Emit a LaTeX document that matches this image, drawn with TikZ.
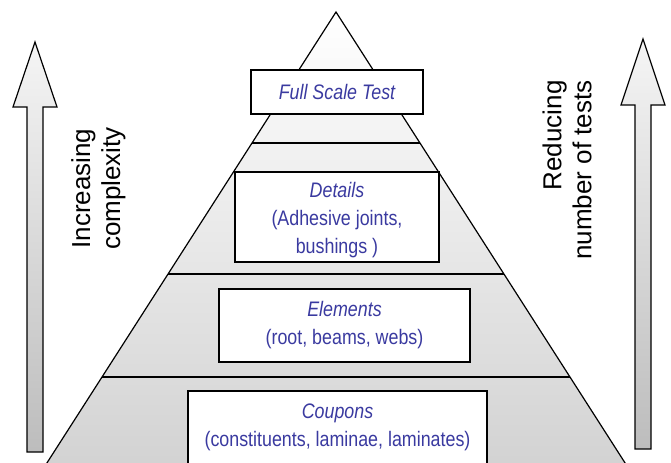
\documentclass[tikz,border=0pt]{standalone}
\usepackage{fontspec}
\setsansfont{Liberation Sans}
\newfontfamily\narrowsans[FakeStretch=0.85]{Liberation Sans}
\usetikzlibrary{calc}
\definecolor{levelblue}{RGB}{58,58,160}

\begin{document}
\begin{tikzpicture}[
    x=0.5pt, y=-0.5pt,
    line width=0.6pt,
    pyramid/.style={draw=black, shading=axis, top color=white, bottom color=black!18},
    level/.style={draw=black, fill=white},
    levellabel/.style={text=levelblue, align=center, font=\narrowsans\fontsize{10.5}{14}\selectfont},
    bigarrow/.style={draw=black, shading=axis, top color=black!4, bottom color=black!26},
    sidelabel/.style={rotate=90, font=\sffamily\fontsize{13}{15}\selectfont}
  ]
  \useasboundingbox (0,0) rectangle (671,462);

  \coordinate (apex) at (336,12);
  \coordinate (bl) at (36,480);
  \coordinate (br) at (636,480);
  \draw[pyramid] (apex) -- (bl) -- (br) -- cycle;
  \foreach \t in {0.28,0.56,0.78}
    \draw ($(apex)!\t!(bl)$) -- ($(apex)!\t!(br)$);

  \draw[level] (251,70) rectangle (423,114)
    node[midway, levellabel] (fullscale) {\itshape Full Scale Test};
  \draw[level] (235,172) rectangle (439,262)
    node[midway, levellabel, yshift=-1.5pt] (details) {{\itshape Details}\\(Adhesive joints,\\bushings )};
  \draw[level] (219,289) rectangle (470,362)
    node[midway, levellabel] (elements) {{\itshape Elements}\\(root, beams, webs)};
  \draw[level] (188,391) rectangle (487,465)
    node[midway, levellabel, yshift=0.5pt] (coupons) {{\itshape Coupons}\\(constituents, laminae, laminates)};

  \draw[bigarrow] (27,452) -- (27,107) -- (13,107) -- (35,42) -- (57,107) -- (43,107) -- (43,452) -- cycle;
  \draw[bigarrow] (635,449) -- (635,105) -- (621,105) -- (643,39) -- (665,105) -- (651,105) -- (651,449) -- cycle;

  \node[sidelabel, align=center] (complexity) at (98.5,188.5) {Increasing\\complexity};
  \node[sidelabel, align=right] (tests) at (567,170) {Reducing\\number of tests};
\end{tikzpicture}
\end{document}
